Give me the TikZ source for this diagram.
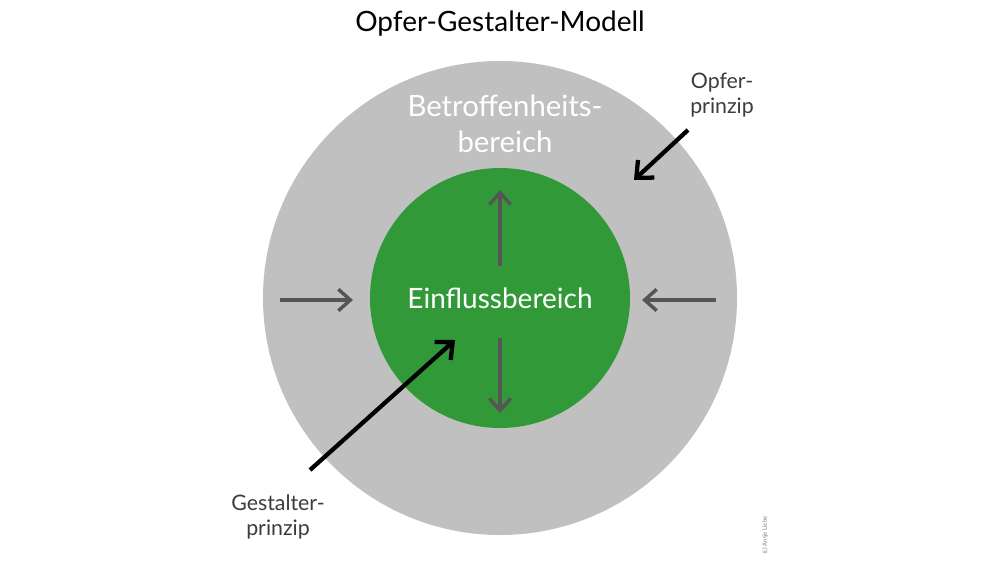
\documentclass[tikz,border=0pt]{standalone}
\usepackage{fontspec}
\setmainfont{Lato}
\usetikzlibrary{arrows.meta}
\definecolor{outerg}{RGB}{192,192,192}
\definecolor{innerg}{RGB}{50,153,56}
\definecolor{arrg}{RGB}{85,85,85}
\definecolor{txt}{RGB}{60,60,60}
\begin{document}
\begin{tikzpicture}[x=0.75pt,y=-0.75pt,
  grayarr/.style={draw=arrg,line width=2.6pt,-{Straight Barb[length=9pt,width=16pt,line width=2.6pt]}},
  blackarr/.style={draw=black,line width=3.2pt,-{Straight Barb[length=10pt,width=18pt,line width=3.2pt]}},
  lbl/.style={text=txt,font=\fontsize{16}{19}\selectfont,align=center}]
\useasboundingbox (0,0) rectangle (1000,571);
\fill[white] (0,0) rectangle (1000,571);
\node (title) at (500,24) {\fontsize{21}{25}\selectfont Opfer-Gestalter-Modell};
\fill[outerg] (500,298) circle[radius=237];
\fill[innerg] (500,298) circle[radius=130];
\node[text=white,font=\fontsize{22}{27}\selectfont,align=center] (betr) at (505,124) {Betroffenheits-\\bereich};
\node[text=white,font=\fontsize{21}{25}\selectfont] (einf) at (500,298) {Einflussbereich};
\coordinate (t1) at (500,266); \coordinate (t2) at (500,190);
\coordinate (b1) at (500,338); \coordinate (b2) at (500,413);
\coordinate (l1) at (280,300); \coordinate (l2) at (353,300);
\coordinate (r1) at (716,300); \coordinate (r2) at (642,300);
\draw[grayarr] (t1) -- (t2);
\draw[grayarr] (b1) -- (b2);
\draw[grayarr] (l1) -- (l2);
\draw[grayarr] (r1) -- (r2);
\node[lbl] (opf) at (722,95) {Opfer-\\prinzip};
\node[lbl] (gest) at (278,517) {Gestalter-\\prinzip};
\coordinate (o1) at (688,130); \coordinate (o2) at (634,180);
\coordinate (g1) at (310,470); \coordinate (g2) at (455,340);
\draw[blackarr] (o1) -- (o2);
\draw[blackarr] (g1) -- (g2);
\node[rotate=90,text=gray,font=\fontsize{4.5}{5}\selectfont] (wm) at (765,535) {(c) Antje Liebe};
\end{tikzpicture}
\end{document}
